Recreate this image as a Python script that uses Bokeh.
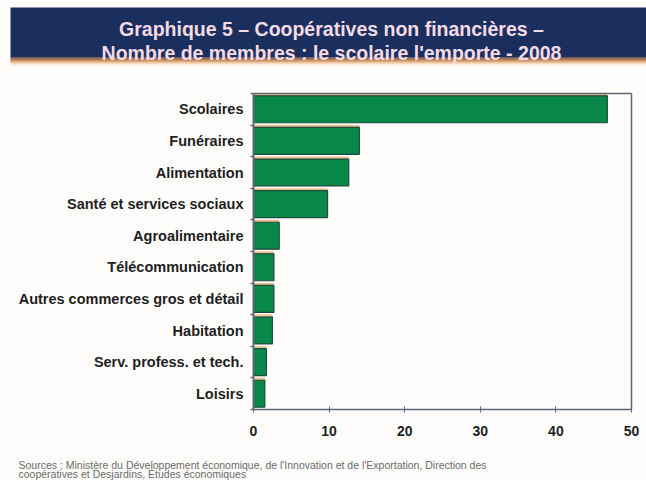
from bokeh.plotting import figure
from bokeh.models import Range1d, FixedTicker, ColumnDataSource, LinearAxis
from bokeh.transform import dodge
from bokeh.core.properties import value
from bokeh.embed import file_html
from bokeh.resources import INLINE

# ---- data ----
categories = ["Scolaires", "Funéraires", "Alimentation", "Santé et services sociaux",
              "Agroalimentaire", "Télécommunication", "Autres commerces gros et détail",
              "Habitation", "Serv. profess. et tech.", "Loisirs"]
members = [46.8, 14.0, 12.6, 9.8, 3.4, 2.7, 2.7, 2.5, 1.7, 1.5]
x_ticks = [0, 10, 20, 30, 40, 50]
title_lines = ["Graphique 5 – Coopératives non financières –",
               "Nombre de membres : le scolaire l'emporte - 2008"]
source_lines = ["Sources : Ministère du Développement économique, de l'Innovation et de l'Exportation, Direction des",
                "coopératives et Desjardins, Études économiques"]

BG = "#fffdfc"
FONT = "Liberation Sans"
AXC = "#5b6878"
W, H = 646, 480
# chart frame in canvas pixels
CL, CR, CT, CB = 253, 631, 93, 409
XMAX = 50
N = len(categories)
sx = (CR - CL) / XMAX
sy = (CB - CT) / N
x_start, x_end = -CL / sx, XMAX + (W - CR) / sx
y_start, y_end = -(H - CB) / sy, N + CT / sy

def px(xp):
    return x_start + xp / sx

def py(yp):
    return y_end - yp / sy

ypos = [N - i - 0.5 for i in range(N)]
src = ColumnDataSource(dict(cat=categories, val=members, y=ypos))

p = figure(width=W, height=H, x_range=Range1d(x_start, x_end), y_range=Range1d(y_start, y_end),
           output_backend="svg", toolbar_location=None, min_border=0)
p.background_fill_color = BG
p.border_fill_color = BG
p.outline_line_color = None
p.grid.visible = False

# ---- banner ----
p.quad(left=px(10), right=px(W), top=py(7), bottom=py(57), fill_color="#1b2f5e", line_color=None)
grad = ["#5a3018", "#7a4220", "#a05a28", "#c47a3a", "#dc9c5c", "#ecbc8c", "#f6d8bc", "#fbeadc", "#fef5ee"]
for i, c in enumerate(grad):
    p.quad(left=px(10), right=px(W), top=py(57 + i), bottom=py(58 + i), fill_color=c, line_color=None)
p.text(x=[px(331), px(331)], y=[py(28), py(52)], text=title_lines, text_align="center",
       text_baseline="alphabetic", text_font=value(FONT), text_font_style="bold",
       text_font_size="19.5px", text_color="#f2dbe6")

# ---- bars ----
p.hbar(y=dodge("y", 0.08), right="val", left=0, height=0.85, source=src,
       fill_color="#e9bf8f", line_color=None)
p.hbar(y="y", right="val", left=0, height=0.85, source=src,
       fill_color="#08894a", line_color="#1d4a3c", line_width=1.2)

# ---- axes ----
xa = p.xaxis[0]
xa.fixed_location = 0
xa.bounds = (0, XMAX)
xa.ticker = FixedTicker(ticks=x_ticks)
xa.minor_tick_line_color = None
xa.major_tick_in = 3
xa.major_tick_out = 3
xa.major_label_standoff = 13

ya = p.yaxis[0]
ya.fixed_location = 0
ya.bounds = (0, N)
ya.ticker = FixedTicker(ticks=ypos)
ya.major_label_overrides = {y: c for y, c in zip(ypos, categories)}
ya.major_tick_line_color = None
ya.major_tick_in = 0
ya.major_tick_out = 0
ya.minor_tick_line_color = None
ya.major_label_standoff = 10

for ax in (xa, ya):
    ax.axis_line_color = AXC
    ax.axis_line_width = 1.5
    ax.major_label_text_font = FONT
    ax.major_label_text_font_style = "bold"
    ax.major_label_text_color = "#1e1e1e"
xa.major_label_text_font_size = "14px"
ya.major_label_text_font_size = "14.5px"
xa.major_tick_line_color = AXC

# boundary ticks on the category axis
yt = LinearAxis(fixed_location=0, bounds=(0, N), ticker=FixedTicker(ticks=list(range(N + 1))),
                major_label_text_alpha=0, major_tick_in=0, major_tick_out=3,
                major_tick_line_color=AXC, major_tick_line_width=1.5,
                minor_tick_line_color=None, axis_line_color=AXC, axis_line_width=1.5)
p.add_layout(yt, "left")
# frame box: top and right edges
top_ax = LinearAxis(fixed_location=N, bounds=(0, XMAX), ticker=FixedTicker(ticks=[]),
                    axis_line_color=AXC, axis_line_width=1.5, minor_tick_line_color=None)
right_ax = LinearAxis(fixed_location=XMAX, bounds=(0, N), ticker=FixedTicker(ticks=[]),
                      axis_line_color=AXC, axis_line_width=1.5, minor_tick_line_color=None)
p.add_layout(top_ax, "above")
p.add_layout(right_ax, "right")

# ---- footnote ----
p.text(x=[px(18), px(18)], y=[py(464), py(473)], text=source_lines, text_align="left",
       text_baseline="middle", text_font=value(FONT), text_font_size="10.5px", text_color="#6a6a6a")

open("out.html", "w").write(file_html(p, INLINE))
